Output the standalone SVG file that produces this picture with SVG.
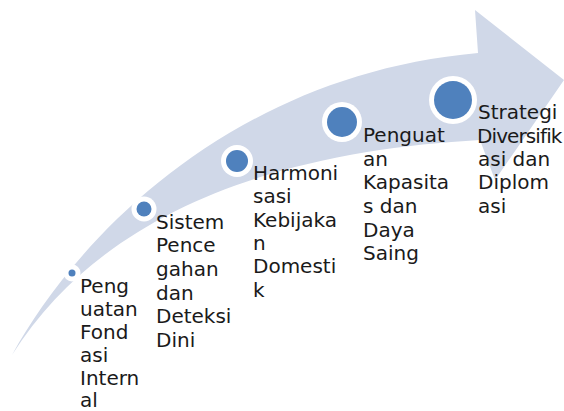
<svg xmlns="http://www.w3.org/2000/svg" width="564" height="411" viewBox="0 0 564 411">
<style>
.arrow{fill:#D0D8E8;stroke:none}
.ring{fill:#FFFFFF}
.dot{fill:#4F81BD}
.lbl{font-family:"DejaVu Sans","Liberation Sans",sans-serif;font-size:20px;fill:#1A1A1A}
.tight{letter-spacing:-0.9px}
</style>
<rect width="564" height="411" fill="#FFFFFF"/>
<g id="connectors">
<path class="arrow" d="M 12,355 C 75,240 230,75 478,53 L 475,10 L 564,80 L 495,180 L 480,140 C 300,150 110,200 12,355 Z"/>
</g>
<g id="step1">
<circle class="ring" cx="72" cy="273" r="8.5"/>
<circle class="dot" cx="72" cy="273" r="3.5"/>
<text class="lbl" x="80" y="293">Peng</text>
<text class="lbl" x="80" y="316">uatan</text>
<text class="lbl" x="80" y="339">Fond</text>
<text class="lbl" x="80" y="362">asi</text>
<text class="lbl" x="80" y="385">Intern</text>
<text class="lbl" x="80" y="407">al</text>
</g>
<g id="step2">
<circle class="ring" cx="144" cy="209" r="12.5"/>
<circle class="dot" cx="144" cy="209" r="7.5"/>
<text class="lbl" x="156" y="229">Sistem</text>
<text class="lbl" x="156" y="252">Pence</text>
<text class="lbl" x="156" y="276">gahan</text>
<text class="lbl" x="156" y="300">dan</text>
<text class="lbl" x="156" y="323">Deteksi</text>
<text class="lbl" x="156" y="347">Dini</text>
</g>
<g id="step3">
<circle class="ring" cx="237" cy="161" r="16"/>
<circle class="dot" cx="237" cy="161" r="11"/>
<text class="lbl" x="253" y="180">Harmoni</text>
<text class="lbl" x="253" y="203">sasi</text>
<text class="lbl" x="253" y="227">Kebijaka</text>
<text class="lbl" x="253" y="250">n</text>
<text class="lbl" x="253" y="273">Domesti</text>
<text class="lbl" x="253" y="297">k</text>
</g>
<g id="step4">
<circle class="ring" cx="342" cy="122" r="20"/>
<circle class="dot" cx="342" cy="122" r="15"/>
<text class="lbl" x="363" y="142">Penguat</text>
<text class="lbl" x="363" y="166">an</text>
<text class="lbl" x="363" y="189">Kapasita</text>
<text class="lbl" x="363" y="213">s dan</text>
<text class="lbl" x="363" y="237">Daya</text>
<text class="lbl" x="363" y="260">Saing</text>
</g>
<g id="step5">
<circle class="ring" cx="453" cy="100" r="24"/>
<circle class="dot" cx="453" cy="100" r="19"/>
<text class="lbl" x="478" y="119">Strategi</text>
<text class="lbl tight" x="477" y="143">Diversifik</text>
<text class="lbl" x="478" y="166">asi dan</text>
<text class="lbl" x="478" y="189">Diplom</text>
<text class="lbl" x="478" y="213">asi</text>
</g>
</svg>
